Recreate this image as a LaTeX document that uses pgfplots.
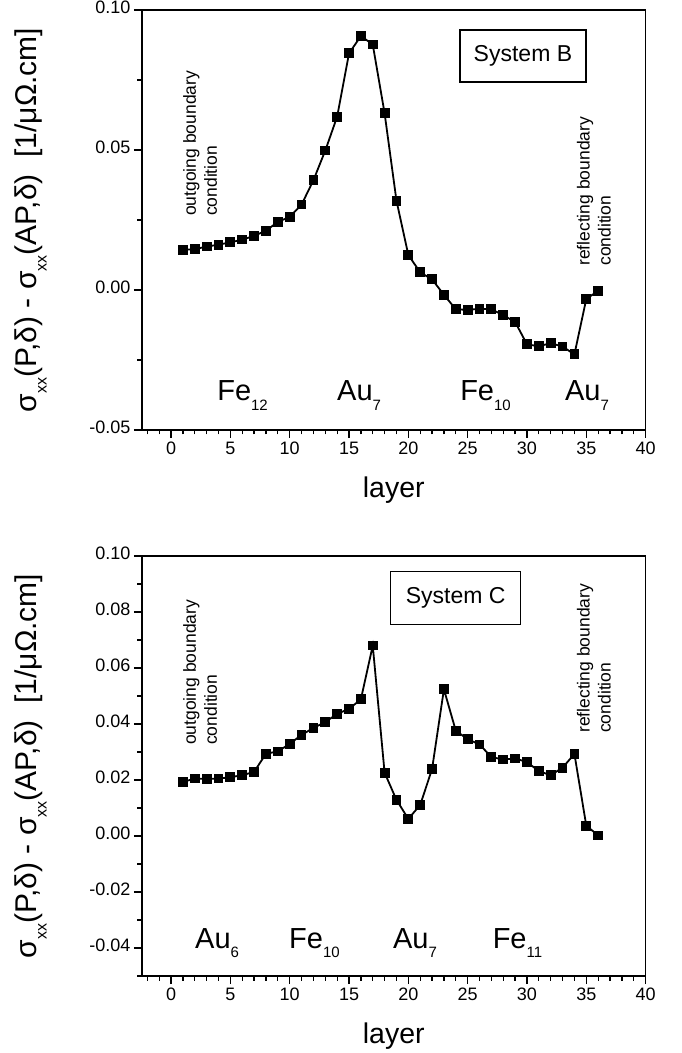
\documentclass[border=0pt]{standalone}
\usepackage{fontspec}
\setmainfont{Liberation Sans}
\usepackage{pgfplots}
\pgfplotsset{compat=1.18}

\newcommand\fs[1]{\fontsize{#1}{#1}\selectfont}
\newcommand\sub[2][15]{\raisebox{-10pt}{\fs{#1}#2}}

\pgfplotsset{layerplot/.style={
    scale only axis, width=503.6pt, height=420pt,
    xmin=-2.45, xmax=40,
    xtick={0,5,...,40}, minor xtick={-2,-1,...,39},
    tick pos=left, tick align=outside,
    major tick length=8pt, minor tick length=4.5pt,
    axis line style={line width=1.6pt},
    every tick/.style={black, line width=1.3pt},
    ticklabel style={font=\fs{18}},
    typeset ticklabels with strut,
    /pgf/number format/assume math mode=true,
    scaled y ticks=false,
    yticklabel style={/pgf/number format/.cd, fixed, fixed zerofill, precision=2},
    ylabel={σ\sub[16]{xx}(P,δ) - σ\sub[16]{xx}(AP,δ)\ \ [1/μΩ.cm]},
    ylabel style={font=\fs{30}, at={(axis description cs:-0.2207,0.5)}, anchor=center},
    xlabel={layer},
    xlabel style={font=\fs{28.5}, at={(axis description cs:0.5,-0.112)}, anchor=north, inner sep=0pt},
  },
  series/.style={black, line width=1.8pt, mark=square*, mark size=4pt, mark options={solid}},
}
\tikzset{
  note/.style={rotate=90, anchor=north west, align=left, inner sep=0pt, font=\fontsize{17.5}{21}\selectfont},
  elem/.style={anchor=base west, inner sep=0pt, font=\fs{29}},
  sysbox/.style={draw, line width=1.4pt, inner sep=0pt, font=\fs{23}},
}

\begin{document}
\begin{tikzpicture}
\path[use as bounding box] (0,0) rectangle (681pt,1053pt);

% System B
\begin{axis}[layerplot, at={(142pt,623pt)}, anchor=south west,
    ymin=-0.05, ymax=0.10, ytick={-0.05,0,0.05,0.10}, minor ytick={-0.025,0.025,0.075}]
\addplot[series] coordinates {
(1,0.0143) (2,0.0146) (3,0.0155) (4,0.0162) (5,0.0170) (6,0.0180)
(7,0.0193) (8,0.0212) (9,0.0243) (10,0.0261) (11,0.0305) (12,0.0392)
(13,0.0498) (14,0.0619) (15,0.0845) (16,0.0907) (17,0.0877) (18,0.0631)
(19,0.0319) (20,0.0125) (21,0.0063) (22,0.0038) (23,-0.0017) (24,-0.0069)
(25,-0.0071) (26,-0.0067) (27,-0.0069) (28,-0.0090) (29,-0.0114) (30,-0.0194)
(31,-0.0201) (32,-0.0190) (33,-0.0202) (34,-0.0230) (35,-0.0032) (36,-0.0003)};
\node[note] at (axis cs:1.01,0.0264) {outgoing boundary\\condition};
\node[note] at (axis cs:34.2,0.0086) {reflecting boundary\\condition};
\node[sysbox, minimum width=126pt, minimum height=52pt] at (axis cs:29.66,0.0836) {System B};
\node[elem] at (axis cs:3.88,-0.0393) {Fe\sub{12}};
\node[elem] at (axis cs:13.99,-0.0393) {Au\sub{7}};
\node[elem] at (axis cs:24.36,-0.0393) {Fe\sub{10}};
\node[elem] at (axis cs:33.2,-0.0393) {Au\sub{7}};
\end{axis}

% System C
\begin{axis}[layerplot, at={(142pt,77pt)}, anchor=south west,
    ymin=-0.05, ymax=0.10, ytick={-0.04,-0.02,...,0.10}, minor ytick={-0.05,-0.03,...,0.09}]
\addplot[series] coordinates {
(1,0.0193) (2,0.0205) (3,0.0204) (4,0.0205) (5,0.0210) (6,0.0217)
(7,0.0229) (8,0.0294) (9,0.0302) (10,0.0329) (11,0.0361) (12,0.0386)
(13,0.0407) (14,0.0436) (15,0.0454) (16,0.0488) (17,0.0680) (18,0.0226)
(19,0.0129) (20,0.0061) (21,0.0111) (22,0.0239) (23,0.0524) (24,0.0376)
(25,0.0346) (26,0.0327) (27,0.0282) (28,0.0273) (29,0.0277) (30,0.0264)
(31,0.0232) (32,0.0217) (33,0.0244) (34,0.0293) (35,0.0037) (36,0.0002)};
\node[note] at (axis cs:1.01,0.0325) {outgoing boundary\\condition};
\node[note] at (axis cs:34.2,0.0368) {reflecting boundary\\condition};
\node[sysbox, minimum width=130pt, minimum height=52.6pt] at (axis cs:23.99,0.085) {System C};
\node[elem] at (axis cs:2.02,-0.040) {Au\sub{6}};
\node[elem] at (axis cs:9.94,-0.040) {Fe\sub{10}};
\node[elem] at (axis cs:18.7,-0.040) {Au\sub{7}};
\node[elem] at (axis cs:27.1,-0.040) {Fe\sub{11}};
\end{axis}
\end{tikzpicture}
\end{document}
